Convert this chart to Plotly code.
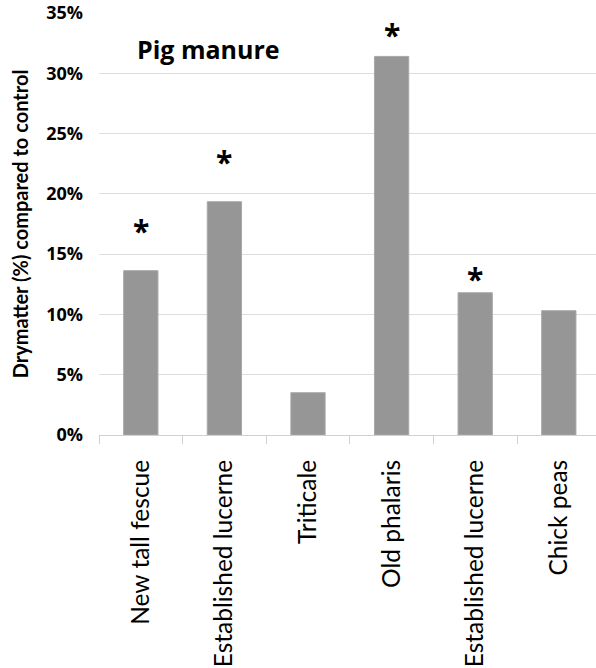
import plotly.graph_objects as go

# Crops and their dry-matter change relative to control (fraction)
crops = ["New tall fescue", "Established lucerne", "Triticale",
         "Old phalaris", "Established lucerne", "Chick peas"]
drymatter = [0.1363, 0.1935, 0.0351, 0.3140, 0.1180, 0.1031]
significant = [True, True, False, True, True, False]
star_lift = [40, 40, 0, 22, 14, 0]   # pixels above bar top for the asterisk

y_ticks = [0, 0.05, 0.10, 0.15, 0.20, 0.25, 0.30, 0.35]

# unique ids so the repeated crop name stays as its own bar
ids = [f"c{i}" for i in range(len(crops))]

FONT_H = "Open Sans"   # horizontal text
FONT_V = "Lato"        # rotated text

fig = go.Figure(go.Bar(
    x=ids, y=drymatter,
    marker=dict(color="#969696", line=dict(color="#a8a8a8", width=1)),
    width=0.41,
))

for i, (v, sig) in enumerate(zip(drymatter, significant)):
    if sig:
        fig.add_annotation(x=ids[i], y=v, text="<b>*</b>", showarrow=False,
                           xanchor="center", yanchor="middle", yshift=star_lift[i],
                           font=dict(family=FONT_H, size=30, color="black"))

fig.add_annotation(x=0.221, y=0.915, xref="paper", yref="paper",
                   xanchor="center", yanchor="middle",
                   text="<b>Pig manure</b>", showarrow=False,
                   font=dict(family=FONT_H, size=25, color="black"))

fig.update_layout(
    width=596, height=668,
    margin=dict(l=99, r=0, t=13, b=233),
    paper_bgcolor="white", plot_bgcolor="white",
    showlegend=False,
    bargap=0.59,
    xaxis=dict(
        type="category", tickmode="array", tickvals=ids, ticktext=crops,
        tickangle=-90, tickson="boundaries", ticks="outside", ticklen=8,
        tickcolor="#d0d0d0", showline=True, linecolor="#d0d0d0",
        range=[-0.5, 5.445], ticklabelstandoff=14, automargin=False,
        tickfont=dict(family=FONT_V, size=24.5, color="black"),
        showgrid=False,
    ),
    yaxis=dict(
        range=[0, 0.35], tickvals=y_ticks, tickformat=".0%",
        showgrid=True, gridcolor="#dedede", gridwidth=1,
        zeroline=False, showline=False, ticks="", automargin=False,
        ticklabelstandoff=15,
        tickfont=dict(family=FONT_H, size=18, color="black", weight="bold"),
        title=dict(text="<b>Drymatter (%) compared to control</b>",
                   font=dict(family=FONT_V, size=20, color="black"), standoff=12),
    ),
)

fig.write_html("out.html")
